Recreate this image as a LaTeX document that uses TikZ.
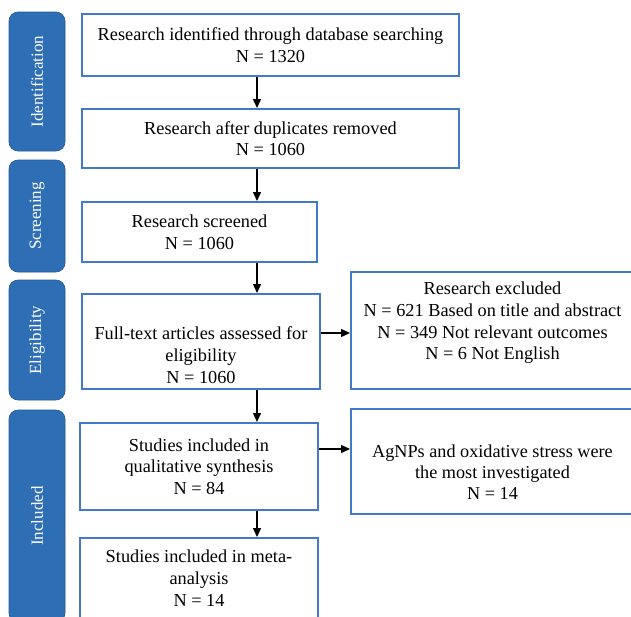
\documentclass[tikz,border=0pt]{standalone}
\usepackage{fontspec}
\setmainfont{Liberation Serif}
\usetikzlibrary{arrows.meta}
\definecolor{tabblue}{RGB}{46,110,181}
\definecolor{boxblue}{RGB}{64,122,200}
\tikzset{
  tabbox/.style={draw=tabblue!80!black, line width=0.6pt, fill=tabblue, rounded corners=9pt, minimum width=56pt, inner sep=0pt},
  tabtext/.style={text=white, rotate=90, font=\fontsize{17}{20}\selectfont, inner sep=0pt},
  flowbox/.style={draw=boxblue, line width=2pt, fill=white, inner sep=0pt, align=center, font=\fontsize{18.3}{21.7}\selectfont},
  txt/.style={align=center, inner sep=0pt, font=\fontsize{18.3}{21.7}\selectfont},
  arr/.style={line width=1.4pt, -{Triangle[length=9pt,width=8pt]}}
}
\begin{document}
\begin{tikzpicture}[x=1pt,y=-1pt]
\path[use as bounding box] (0,0) rectangle (631,616);
\clip (0,0) rectangle (631,616);
\fill[white] (0,0) rectangle (631,616);
% side tabs
\node[tabbox, minimum height=139pt] (tid) at (37,81.5) {};
\node[tabtext] (tidt) at (tid.center) {Identification};
\node[tabbox, minimum height=112pt] (tsc) at (37,216) {};
\node[tabtext] (tsct) at (tsc.center) {Screening};
\node[tabbox, minimum height=120pt] (tel) at (37,340) {};
\node[tabtext] (telt) at (tel.center) {Eligibility};
\node[tabbox, minimum height=212pt] (tin) at (37,516) {};
\node[tabtext] (tint) at (tin.center) {Included};
% main boxes
\node[flowbox, minimum width=377pt, minimum height=62pt] (b1) at (270.5,45) {Research identified through database searching\\N = 1320};
\node[flowbox, minimum width=377pt, minimum height=59pt] (b2) at (270.5,138.5) {Research after duplicates removed\\N = 1060};
\node[flowbox, minimum width=235pt, minimum height=60pt] (b3) at (199.5,232) {Research screened\\N = 1060};
\node[flowbox, minimum width=238pt, minimum height=95pt] (b4) at (201,341.5) {};
\node[txt] (b4t) at (201,355) {Full-text articles assessed for\\eligibility\\N = 1060};
\node[flowbox, minimum width=238pt, minimum height=87pt] (b5) at (199,466.5) {Studies included in\\qualitative synthesis\\N = 84};
\node[flowbox, minimum width=238pt, minimum height=80pt] (b6) at (199,578) {Studies included in meta-\\analysis\\N = 14};
% right boxes
\node[flowbox, minimum width=283pt, minimum height=117pt] (r1) at (492.5,330.5) {};
\node[txt] (r1t) at (492.5,323) {Research excluded\\N = 621 Based on title and abstract\\N = 349 Not relevant outcomes\\N = 6 Not English};
\node[flowbox, minimum width=283pt, minimum height=105pt] (r2) at (492.5,461.5) {};
\node[txt, font=\fontsize{18.2}{20.7}\selectfont] (r2t) at (492.5,472) {AgNPs and oxidative stress were\\the most investigated\\N = 14};
% connector guides
\coordinate (col) at (257,0);
\coordinate (h1) at (0,333);
\coordinate (h2) at (0,449);
% arrows
\draw[arr] (b1.south -| col) -- (b2.north -| col);
\draw[arr] (b2.south -| col) -- (b3.north -| col);
\draw[arr] (b3.south -| col) -- (b4.north -| col);
\draw[arr] (b4.south -| col) -- (b5.north -| col);
\draw[arr] (b5.south -| col) -- (b6.north -| col);
\draw[arr] (b4.east |- h1) -- (r1.west |- h1);
\draw[arr] (b5.east |- h2) -- (r2.west |- h2);
\end{tikzpicture}
\end{document}
